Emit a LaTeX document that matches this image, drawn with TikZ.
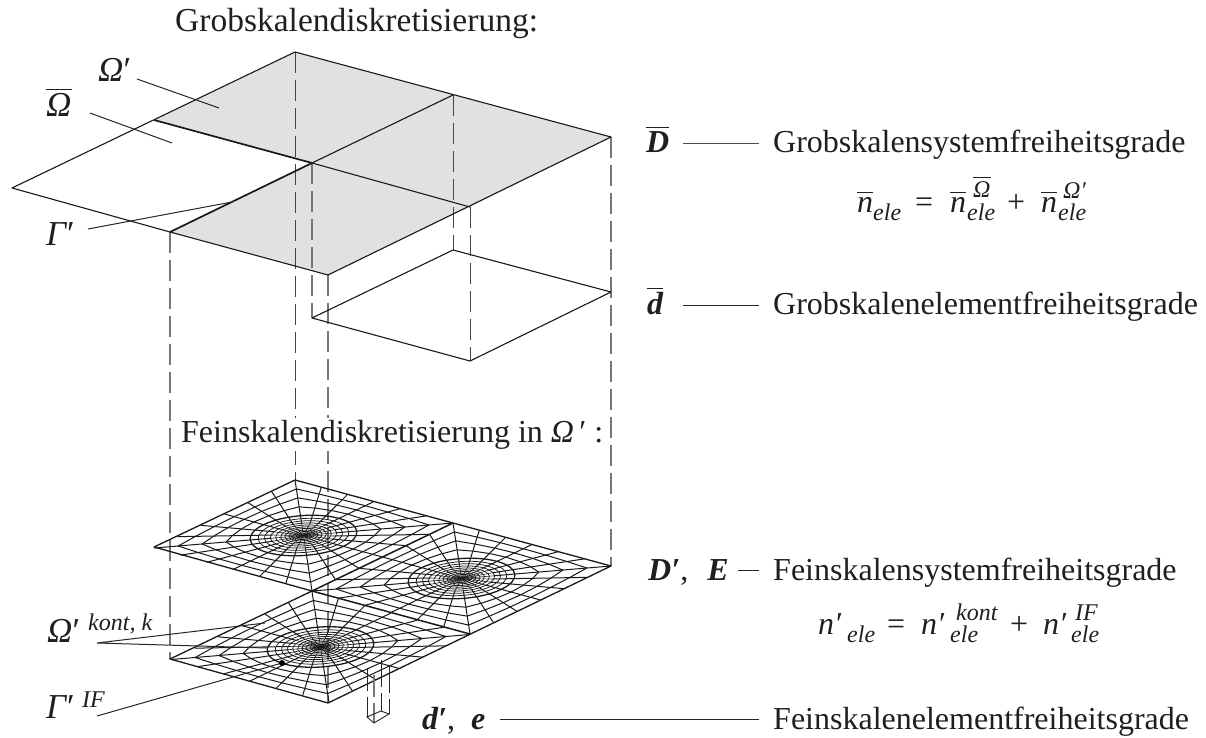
\documentclass[tikz,border=0pt]{standalone}
\usepackage{fontspec}
\setmainfont{Liberation Serif}
\definecolor{coarsefill}{HTML}{E0E1E3}
\definecolor{dashA}{HTML}{777777}
\definecolor{dashB}{HTML}{444444}
\newcommand{\bigfont}{\fontsize{32}{35}\selectfont}
\newcommand{\midfont}{\fontsize{24}{26}\selectfont}
\newcommand{\greekfont}{\fontsize{35}{38}\selectfont}
\newcommand{\ibar}[2][24pt]{$\overline{\hbox{\itshape\rule{0pt}{#1}#2}}$}
\newcommand{\bbar}[1]{$\overline{\hbox{\bfseries\itshape\rule{0pt}{24pt}#1}}$}
% \slot{width}{content}: a piece of a formula in a box of fixed width
\newcommand{\slot}[2]{\makebox[#1pt][l]{#2}}
% \scr{sup offset}{sup}{sub}: scripts without width of their own
\newcommand{\scr}[3]{\rlap{\raisebox{14pt}{\hspace{#1pt}\midfont\itshape #2}}\raisebox{-8pt}{\midfont\itshape #3}}
\newcommand{\feinmesh}[1]{%
  \begin{scope}[shift={#1},x=1pt,y=1pt,cm={158,-43,-141,-68,(0,0)}]
    \foreach \rr in {0.214,0.184,0.156,0.131,0.108,0.088,0.068,0.05,0.033,0.018}
      \draw[meshline,line width=0.75pt] (0,0) circle [radius=\rr];
    \foreach \q in {0,90,180,270}{
      \begin{scope}[rotate=\q]
        \foreach \k in {0,...,5}{
          \pgfmathsetmacro{\ta}{\k/6}
          \pgfmathsetmacro{\tb}{(\k+1)/6}
          \pgfmathsetmacro{\ca}{0.252*cos(45+90*\ta)}
          \pgfmathsetmacro{\sa}{0.252*sin(45+90*\ta)}
          \pgfmathsetmacro{\cb}{0.252*cos(45+90*\tb)}
          \pgfmathsetmacro{\sb}{0.252*sin(45+90*\tb)}
          \pgfmathsetmacro{\ua}{0.5-\ta}
          \pgfmathsetmacro{\ub}{0.5-\tb}
          \draw[meshline] ({\ca*0.6},{\sa*0.6}) -- (\ua,0.5);
          \draw[meshline,line width=0.6pt] (0,0) -- ({\ca*0.6},{\sa*0.6});
          \foreach \f in {0.25,0.5,0.75}
            \draw[meshline] ({\ca+(\ua-\ca)*\f},{\sa+(0.5-\sa)*\f}) -- ({\cb+(\ub-\cb)*\f},{\sb+(0.5-\sb)*\f});
        }
      \end{scope}
    }
    \draw[meshline,line width=1.3pt] (0,0) circle [radius=0.252];
  \end{scope}}
\tikzset{
  meshline/.style={line width=1pt,black!90},
  edge/.style={line width=1.1pt,black!90,line join=round},
  thickedge/.style={line width=1.7pt,black!90},
  leader/.style={line width=1pt,black!85},
  vdashA/.style={line width=1.2pt,dashA,dash pattern=on 21pt off 7pt},
  vdashB/.style={line width=1pt,dashB,dash pattern=on 21pt off 7pt},
  lbl/.style={inner sep=0pt,anchor=base west,font=\bigfont,text=black!88},
  greeklbl/.style={lbl,font=\greekfont},
}
\begin{document}
\begin{tikzpicture}[x=1pt,y=-1pt]
\useasboundingbox (0,0) rectangle (1206,738);
% coarse corners
\coordinate (A) at (295,52);
\coordinate (B) at (453,95);
\coordinate (C) at (611,137);
\coordinate (L) at (154,120);
\coordinate (M) at (312,163);
\coordinate (N) at (470,207);
\coordinate (W) at (12,188);
\coordinate (P) at (170,232);
\coordinate (Q) at (328,275);
% element corners
\coordinate (eB) at (453,250);
\coordinate (eC) at (611,292);
\coordinate (eM) at (312,318);
\coordinate (eN) at (470,361);
% fine corners
\coordinate (fA) at (295,480);
\coordinate (fB) at (453,523);
\coordinate (fC) at (611,566);
\coordinate (fL) at (154,547);
\coordinate (fM) at (312,591);
\coordinate (fN) at (470,634);
\coordinate (fP) at (170,659);
\coordinate (fQ) at (328,703);
\fill[coarsefill] (A) -- (C) -- (N) -- (M) -- (L) -- cycle;
\fill[coarsefill] (M) -- (N) -- (Q) -- (P) -- cycle;
\draw[vdashB] (A) -- (fA);
\draw[vdashA] (M) -- (eM);
\draw[vdashB] (B) -- (eB);
\draw[vdashB] (N) -- (eN);
\draw[vdashA] (P) -- (fP);
\draw[vdashA] (C) -- (fC);
\draw[vdashA] (Q) -- (fQ);
\node[lbl,fill=white,inner sep=2pt,anchor=base west] (feintitle) at (179,442) {Feinskalendiskretisierung in \textit{Ω}\,′ :};
\draw[edge] (A) -- (C) -- (Q) -- (P) -- (W) -- cycle;
\draw[edge] (B) -- (M);
\draw[thickedge] (L) -- (M);
\draw[thickedge] (M) -- (P);
\draw[edge] (M) -- (N);
\draw[edge] (eB) -- (eC) -- (eN) -- (eM) -- cycle;
% fine meshes
\feinmesh{(303.5,535.5)}
\feinmesh{(461.5,578.5)}
\feinmesh{(320.5,647)}
\draw[edge,line width=1.3pt] (fA) -- (fC) -- (fQ) -- (fP) -- (fM) -- (fL) -- cycle;
\draw[thickedge,line width=1.5pt] (fB) -- (fM);
\draw[thickedge,line width=1.5pt] (fM) -- (fN);
% small element column
\coordinate (c1t) at (367,669); \coordinate (c1b) at (367,717);
\coordinate (c2t) at (374,675); \coordinate (c2b) at (374,723);
\coordinate (c3t) at (389,666); \coordinate (c3b) at (389,714);
\coordinate (c4t) at (381,660); \coordinate (c4b) at (381,711);
\draw[line width=.9pt,black!85,dash pattern=on 22pt off 6pt] (c1t) -- (c1b);
\draw[line width=1.6pt,dashA,dash pattern=on 22pt off 6pt] (c2t) -- (c2b);
\draw[line width=.9pt,black!85,dash pattern=on 27pt off 6pt] (c3t) -- (c3b);
\draw[line width=.9pt,black!85,dash pattern=on 27pt off 6pt] (c4t) -- (c4b);
\draw[line width=.9pt,black!85] (c1b) -- (c2b) -- (c3b) -- (c4b) -- cycle;
% labels left
\node[lbl,font=\fontsize{33.5}{36}\selectfont] (grobtitle) at (175,32) {Grobskalendiskretisierung:};
\node[greeklbl] (lomp) at (98,82) {\textit{Ω}′};
\node[greeklbl] (lombar) at (46,117) {\ibar[26pt]{Ω}};
\node[greeklbl] (lgam) at (46,245) {\textit{Γ}′};
\node[greeklbl] (lomk) at (47,642) {\textit{Ω}′};
\node[lbl,font=\fontsize{24}{26}\selectfont\itshape] (lomks) at (88,630) {kont, k};
\node[greeklbl] (lgif) at (46,718) {\textit{Γ}′};
\node[lbl,font=\fontsize{24}{26}\selectfont\itshape] (lgifs) at (82,707) {IF};
\coordinate (a1) at (137,79); \coordinate (a2) at (219,108);
\coordinate (b1) at (90,113); \coordinate (b2) at (172,143);
\coordinate (g1) at (88,229); \coordinate (g2) at (232,202);
\coordinate (k0) at (97,643); \coordinate (k1) at (265,623); \coordinate (k2) at (267,648);
\coordinate (i1) at (97,716); \coordinate (i2) at (282,663);
\draw[leader] (a1) -- (a2);
\draw[leader] (b1) -- (b2);
\draw[leader] (g1) -- (g2);
\draw[leader] (k1) -- (k0) -- (k2);
\draw[leader] (i1) -- (i2);
\fill[black] (i2) circle [radius=3];
% labels right
\node[lbl] (lD) at (646,153) {\bbar{D}};
\node[lbl] (grobsys) at (773,153) {Grobskalensystemfreiheitsgrade};
\node[lbl] (fn1) at (857,212) {\slot{16}{\ibar[18pt]{n}}\slot{42}{\scr{0}{}{ele}}\slot{35}{=}\slot{17}{\ibar[18pt]{n}}\slot{40}{\rlap{\raisebox{15pt}{\hspace{6pt}\midfont $\overline{\hbox{\itshape\rule{0pt}{18pt}Ω}}$}}\raisebox{-8pt}{\midfont\itshape ele}}\slot{34}{+}\slot{17}{\ibar[18pt]{n}}\scr{5}{Ω′}{ele}};
\node[lbl] (ld) at (647,314) {\bbar{d}};
\node[lbl] (grobele) at (773,314) {Grobskalenelementfreiheitsgrade};
\node[lbl] (lDE) at (648,580) {\bfseries\itshape D′\textnormal{,}\ \ \hspace{3pt}E};
\node[lbl] (feinsys) at (773,580) {Feinskalensystemfreiheitsgrade};
\node[lbl] (fn2) at (818,634) {\slot{29}{\textit{n′}}\slot{40}{\scr{0}{}{ele}}\slot{34}{=}\slot{29}{\textit{n′}}\slot{60}{\scr{6}{kont}{ele}}\slot{33}{+}\slot{28}{\textit{n′}}\scr{4}{IF}{ele}};
\node[lbl] (lde) at (422,729) {\bfseries\itshape d′\textnormal{,}\ \ e};
\node[lbl] (feinele) at (773,729) {Feinskalenelementfreiheitsgrade};
\coordinate (r1a) at (683,144); \coordinate (r1b) at (759,144);
\coordinate (r2a) at (683,305); \coordinate (r2b) at (759,305);
\coordinate (r3a) at (738,570); \coordinate (r3b) at (759,570);
\coordinate (r4a) at (500,719); \coordinate (r4b) at (759,719);
\draw[leader,black!70] (r1a) -- (r1b);
\draw[leader] (r2a) -- (r2b);
\draw[leader] (r3a) -- (r3b);
\draw[leader] (r4a) -- (r4b);
\end{tikzpicture}
\end{document}
